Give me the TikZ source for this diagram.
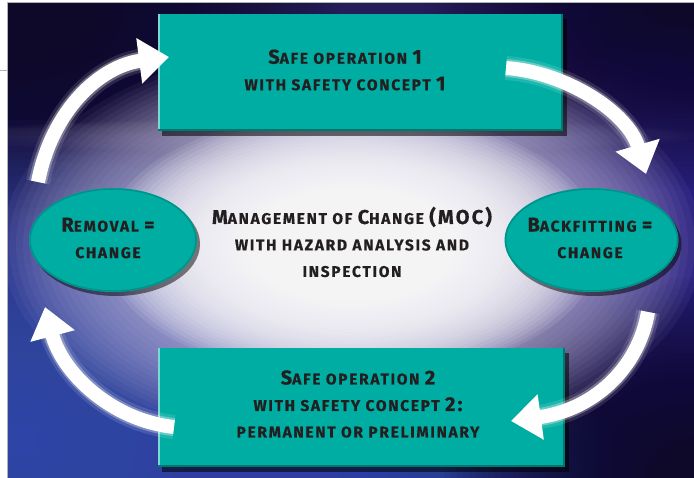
\documentclass[tikz,border=0pt]{standalone}
\usepackage{fontspec}
\setmainfont{Fira Sans}
\usetikzlibrary{shadows,arrows.meta,shapes.geometric}

\definecolor{tealmain}{HTML}{00ADA3}
\definecolor{teallight}{HTML}{7AD9D2}
\definecolor{tealdark}{HTML}{00786F}
\definecolor{ink}{HTML}{231F20}
\definecolor{bgbase}{HTML}{261C5A}
\definecolor{bgdark}{HTML}{0E0928}
\definecolor{bgblue}{HTML}{4157BA}
\definecolor{bgviolet}{HTML}{3A3190}
\definecolor{lavender}{HTML}{C9C3E6}

% soft blob: colour, cx, cy, rx, ry, opacity per layer, layers
\newcommand\softblob[7]{%
  \foreach \k in {1,...,#7}{%
    \fill[#1, opacity=#6] (#2,#3) ellipse [x radius={#4/#7*\k}, y radius={#5/#7*\k}];}}

\newcommand\lblfont{\fontsize{15.5}{26.5}\selectfont\bfseries\addfontfeatures{LetterSpace=11,FakeBold=0.5}}
\newcommand\Bg[1]{{\fontsize{20}{26.5}\selectfont #1}}

\tikzset{
  boxstyle/.style={rectangle, fill=tealmain, inner sep=0pt,
    drop shadow={shadow xshift=4pt, shadow yshift=-5pt, fill=black, opacity=0.55}},
  ovalstyle/.style={ellipse, fill=tealmain, inner sep=0pt,
    drop shadow={shadow xshift=3pt, shadow yshift=-4pt, fill=black, opacity=0.5}},
  lbl/.style={text=ink, align=center, font=\lblfont, inner sep=0pt},
  arrowhalo/.style={white, opacity=0.12, line width=24pt},
  arrowhalo2/.style={white, opacity=0.3, line width=18pt},
  arrowshaft/.style={white, line width=14pt, -{Triangle[width=44pt,length=30pt]}},
}

\begin{document}
\begin{tikzpicture}[x=1pt,y=-1pt]
\useasboundingbox (0,0) rectangle (694,478);
\fill[white] (0,0) rectangle (694,478);
\fill[bgbase] (7,3) rectangle (694,478);
\begin{scope}
  \clip (7,3) rectangle (694,478);
  \softblob{bgdark}{20}{10}{320}{220}{0.05}{40}
  \softblob{bgblue}{20}{440}{390}{320}{0.05}{40}
  \softblob{bgblue}{350}{478}{340}{100}{0.04}{40}
  \softblob{bgviolet}{694}{250}{170}{230}{0.05}{40}
  \softblob{bgdark}{694}{0}{270}{190}{0.04}{40}
  \softblob{bgdark}{694}{478}{250}{200}{0.05}{40}
  \softblob{lavender}{320}{136}{380}{18}{0.01}{40}
  \softblob{lavender}{352}{245}{350}{205}{0.06}{50}
  \softblob{white}{352}{245}{250}{135}{0.09}{45}
\end{scope}
\draw[gray!60, line width=0.8pt] (7,478) -- (7,2.5) -- (694,2.5);
\draw[gray!60, line width=0.8pt] (0,70) -- (7,70);

% boxes
\node[boxstyle, minimum width=405pt, minimum height=117pt] (top) at (360.5,72.5) {};
\node[boxstyle, minimum width=407pt, minimum height=119pt] (bottom) at (361.5,407.5) {};
\foreach \b in {top,bottom}{
  \draw[teallight, line width=2.5pt] ([xshift=1.25pt]\b.north west) -- ([xshift=1.25pt]\b.south west);
  \draw[tealdark, line width=2.5pt] ([xshift=-1.25pt]\b.north east) -- ([xshift=-1.25pt,yshift=1.25pt]\b.south east) -- ([yshift=1.25pt]\b.south west);
}
\node[ovalstyle, minimum width=168pt, minimum height=104pt] (removal) at (113,240) {};
\node[ovalstyle, minimum width=174pt, minimum height=104pt] (backfit) at (591.5,240) {};
\draw[tealdark, opacity=0.5, line width=1.5pt] (removal.center) ellipse [x radius=83, y radius=51];
\draw[tealdark, opacity=0.5, line width=1.5pt] (backfit.center) ellipse [x radius=86, y radius=51];

% labels
\node[lbl] (ttop) at (345,70) {\Bg{S}AFE OPERATION \Bg{1}\\WITH SAFETY CONCEPT \Bg{1}};
\node[lbl] (tmoc) at (352,242) {\Bg{M}ANAGEMENT OF \Bg{C}HANGE \Bg{(MOC)}\\WITH HAZARD ANALYSIS AND\\INSPECTION};
\node[lbl] (trem) at (108,238) {\Bg{R}EMOVAL \Bg{=}\\CHANGE};
\node[lbl] (tback) at (590,238) {\Bg{B}ACKFITTING \Bg{=}\\CHANGE};
\node[lbl] (tbot) at (358,404) {\Bg{S}AFE OPERATION \Bg{2}\\WITH SAFETY CONCEPT \Bg{2:}\\PERMANENT OR PRELIMINARY};

% arrow end coordinates
\coordinate (trtail) at (506,68);  \coordinate (trtip) at (646,174);
\coordinate (brtail) at (648,312); \coordinate (brtip) at (511,421);
\coordinate (bltail) at (174,427); \coordinate (bltip) at (45,307);
\coordinate (tltail) at (38,182);  \coordinate (tltip) at (169,57);

\foreach \s in {arrowhalo,arrowhalo2}{
  \draw[\s, shorten >=26pt] (trtail) .. controls (565,72) and (628,112) .. (trtip);
  \draw[\s, shorten >=26pt] (brtail) .. controls (638,370) and (592,410) .. (brtip);
  \draw[\s, shorten >=26pt] (bltail) .. controls (110,420) and (62,372) .. (bltip);
  \draw[\s, shorten >=26pt] (tltail) .. controls (52,110) and (100,66) .. (tltip);
}
\draw[arrowshaft] (trtail) .. controls (565,72) and (628,112) .. (trtip);
\draw[arrowshaft] (brtail) .. controls (638,370) and (592,410) .. (brtip);
\draw[arrowshaft] (bltail) .. controls (110,420) and (62,372) .. (bltip);
\draw[arrowshaft] (tltail) .. controls (52,110) and (100,66) .. (tltip);
\end{tikzpicture}
\end{document}
